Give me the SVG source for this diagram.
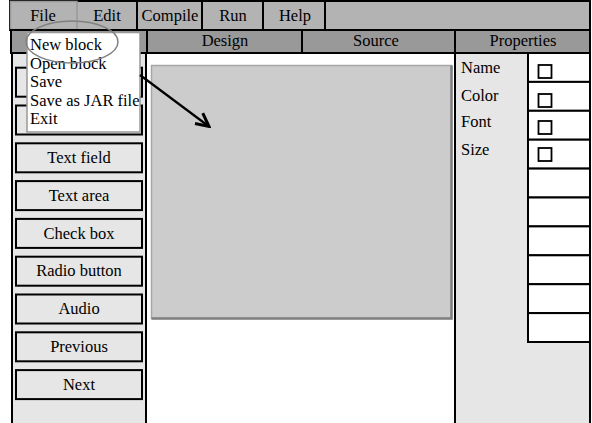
<svg xmlns="http://www.w3.org/2000/svg" width="592" height="423" viewBox="0 0 592 423" font-family="'Liberation Serif', 'Times New Roman', Tinos, serif" font-size="16.5">
  <defs>
    <style>
      .c { text-anchor: middle; }
      .bar { fill: #b3b3b3; stroke: #000; stroke-width: 2; }
      .tab { fill: #999; stroke: #000; stroke-width: 2; }
      .sep { stroke: #000; stroke-width: 2; }
      .panel { fill: #e6e6e6; stroke: #000; stroke-width: 2; }
      .btn { fill: #e6e6e6; stroke: #000; stroke-width: 2; }
      .cell { fill: #fff; stroke: #000; stroke-width: 2; }
      .chk { fill: #fff; stroke: #000; stroke-width: 1.8; }
      .link { stroke: #000; stroke-width: 2.2; fill: none; }
    </style>
    <marker id="arrowhead" markerUnits="userSpaceOnUse" viewBox="-16 -9 18 18" markerWidth="18" markerHeight="18" refX="0" refY="0" orient="auto">
      <path d="M-13,-7 L0,0 L-13,6" fill="none" stroke="#000" stroke-width="3"/>
    </marker>
  </defs>

  <!-- menu bar -->
  <g id="menubar">
    <rect class="bar" x="10" y="1" width="580" height="29"/>
    <rect x="10.5" y="1.5" width="66.5" height="28" fill="#b3b3b3" stroke="#999" stroke-width="1.5"/>
    <line class="sep" x1="137" y1="1" x2="137" y2="30"/>
    <line class="sep" x1="202" y1="1" x2="202" y2="30"/>
    <line class="sep" x1="263" y1="1" x2="263" y2="30"/>
    <line class="sep" x1="325" y1="1" x2="325" y2="30"/>
    <text class="c" x="43" y="21">File</text>
    <text class="c" x="107" y="21">Edit</text>
    <text class="c" x="170" y="21">Compile</text>
    <text class="c" x="233" y="21">Run</text>
    <text class="c" x="295" y="21">Help</text>
  </g>

  <!-- tab row -->
  <g id="tabs">
    <rect class="tab" x="11" y="30" width="579" height="23"/>
    <line class="sep" x1="147" y1="30" x2="147" y2="53"/>
    <line class="sep" x1="302" y1="30" x2="302" y2="53"/>
    <line class="sep" x1="455" y1="30" x2="455" y2="53"/>
    <text class="c" x="225" y="46">Design</text>
    <text class="c" x="376" y="46">Source</text>
    <text class="c" x="523" y="46">Properties</text>
  </g>

  <!-- toolbox -->
  <g id="toolbox">
    <rect class="panel" x="12" y="53" width="134" height="372"/>
    <rect class="btn" x="16" y="67.7" width="126" height="29"/>
    <rect class="btn" x="16" y="105.5" width="126" height="29"/>
    <rect class="btn" x="16" y="143.3" width="126" height="29"/>
    <rect class="btn" x="16" y="181.1" width="126" height="29"/>
    <rect class="btn" x="16" y="218.9" width="126" height="29"/>
    <rect class="btn" x="16" y="256.7" width="126" height="29"/>
    <rect class="btn" x="16" y="294.5" width="126" height="29"/>
    <rect class="btn" x="16" y="332.3" width="126" height="29"/>
    <rect class="btn" x="16" y="370.1" width="126" height="29"/>
    <text class="c" x="79" y="163">Text field</text>
    <text class="c" x="79" y="201">Text area</text>
    <text class="c" x="79" y="239">Check box</text>
    <text class="c" x="79" y="276">Radio button</text>
    <text class="c" x="79" y="314">Audio</text>
    <text class="c" x="79" y="352">Previous</text>
    <text class="c" x="79" y="390">Next</text>
  </g>

  <!-- design area -->
  <g id="design">
    <rect x="146" y="53" width="309" height="372" fill="#fff" stroke="#000" stroke-width="2"/>
    <rect x="151.5" y="65.5" width="300" height="253" fill="#ccc" stroke="#a6a6a6" stroke-width="1.5"/>
    <polyline points="151.5,318.5 451.5,318.5 451.5,65.5" fill="none" stroke="#808080" stroke-width="2.5"/>
  </g>

  <!-- properties panel -->
  <g id="properties">
    <rect class="panel" x="455" y="53" width="135" height="372"/>
    <rect class="cell" x="528" y="53" width="62" height="28.9"/>
    <rect class="cell" x="528" y="81.9" width="62" height="28.9"/>
    <rect class="cell" x="528" y="110.8" width="62" height="28.9"/>
    <rect class="cell" x="528" y="139.7" width="62" height="28.9"/>
    <rect class="cell" x="528" y="168.6" width="62" height="28.9"/>
    <rect class="cell" x="528" y="197.5" width="62" height="28.9"/>
    <rect class="cell" x="528" y="226.4" width="62" height="28.9"/>
    <rect class="cell" x="528" y="255.3" width="62" height="28.9"/>
    <rect class="cell" x="528" y="284.2" width="62" height="28.9"/>
    <rect class="cell" x="528" y="313.1" width="62" height="28.9"/>
    <rect class="chk" x="538.5" y="65" width="13" height="13"/>
    <rect class="chk" x="538.5" y="94" width="13" height="13"/>
    <rect class="chk" x="538.5" y="121" width="13" height="13"/>
    <rect class="chk" x="538.5" y="148" width="13" height="13"/>
    <text x="461" y="73">Name</text>
    <text x="461" y="101">Color</text>
    <text x="461" y="127">Font</text>
    <text x="461" y="155">Size</text>
  </g>

  <!-- File menu dropdown -->
  <g id="file-menu">
    <rect x="27" y="32.5" width="113" height="99.5" fill="#fff" stroke="#999" stroke-width="1.5"/>
    <text x="30" y="50">New block</text>
    <text x="30" y="68.5">Open block</text>
    <text x="30" y="87">Save</text>
    <text x="30" y="105.5">Save as JAR file</text>
    <text x="30" y="124">Exit</text>
  </g>

  <!-- highlight around the first menu entry -->
  <g id="highlight">
    <ellipse cx="72" cy="42" rx="46" ry="21" fill="none" stroke="#808080" stroke-width="1.5"/>
  </g>

  <!-- connectors -->
  <g id="connectors">
    <line class="link" x1="140" y1="75" x2="209" y2="126.5" marker-end="url(#arrowhead)"/>
  </g>
</svg>
